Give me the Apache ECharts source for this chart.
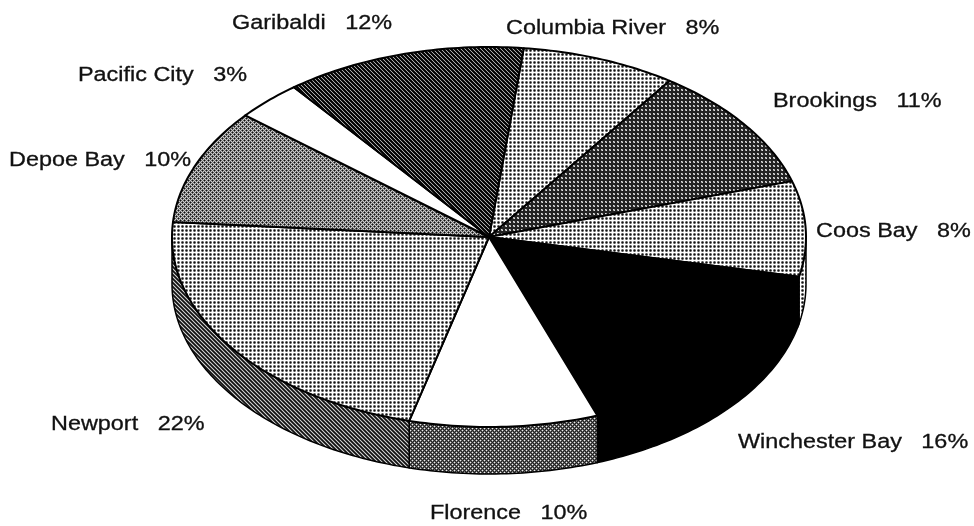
<!DOCTYPE html>
<html>
<head>
<meta charset="utf-8">
<style>
  html, body { margin: 0; padding: 0; background: #fff; }
  #main { width: 974px; height: 526px; }
</style>
<script src="https://cdn.jsdelivr.net/npm/echarts@6/dist/echarts.min.js"></script>
</head>
<body>
<div id="main"></div>
<script>
// slices clockwise, starting at the Garibaldi / Columbia River edge
const names = ["Columbia River", "Brookings", "Coos Bay", "Winchester Bay", "Florence", "Newport", "Depoe Bay", "Pacific City", "Garibaldi"];
const shares = [7.9, 10.6, 8.1, 16.1, 9.6, 22.2, 9.8, 3.4, 12.3];

// ellipse of the top face
const cx = 489, cy = 237, rx = 317, ry = 190, depth = 47;
const startAngle = 6.3;

// left edge / middle of each label, and horizontal stretch of the text
const labelPos = [[506, 28], [773, 101], [816, 231], [738, 442], [430, 513], [51, 424], [9, 160], [78, 75], [232, 23]];
const textStretch = 1.17;

// halftone screens, one hex digit of gray per pixel
const screens = {
  light: ["ffff", "fa5a", "f515", "fa5a"],
  medium: ["16c6", "6c6c", "c616", "6c6c"],
  dark: ["2222", "2d92", "29d2", "2222"],
  darkest: ["a101", "1a10", "01a1", "101a"],
  wallLeft: ["c414", "4c41", "14c4", "414c"],
  wallMid: ["e626", "6262", "26e6", "6262"]
};

function makeScreen(rows) {
  const c = document.createElement("canvas");
  c.width = rows[0].length;
  c.height = rows.length;
  const ctx = c.getContext("2d");
  rows.forEach((row, y) => {
    row.split("").forEach((d, x) => {
      const g = parseInt(d, 16) * 17;
      ctx.fillStyle = "rgb(" + g + "," + g + "," + g + ")";
      ctx.fillRect(x, y, 1, 1);
    });
  });
  return { image: c, repeat: "repeat" };
}

const light = makeScreen(screens.light);
const medium = makeScreen(screens.medium);
const dark = makeScreen(screens.dark);
const darkest = makeScreen(screens.darkest);
const wallLeft = makeScreen(screens.wallLeft);
const wallMid = makeScreen(screens.wallMid);

const topFills = [light, dark, light, "#000", "#fff", light, medium, "#fff", darkest];
const wallFills = [light, light, light, "#000", wallMid, wallLeft, wallLeft, wallLeft, wallLeft];

const total = shares.reduce((a, b) => a + b, 0);
let running = 0;
const edges = shares.map(v => {
  const from = running;
  running += v;
  return [from, running].map(s => echarts.number.linearMap(s, [0, total], [startAngle, startAngle + 360]));
});

function onEllipse(deg, drop) {
  const r = deg * Math.PI / 180;
  return [cx + rx * Math.sin(r), cy - ry * Math.cos(r) + drop];
}

function arc(a0, a1, drop) {
  const pts = [];
  const steps = Math.max(2, Math.ceil(Math.abs(a1 - a0)));
  for (let i = 0; i <= steps; i++) {
    pts.push(onEllipse(a0 + (a1 - a0) * i / steps, drop));
  }
  return pts;
}

function renderWall(params) {
  const i = params.dataIndex;
  const a0 = Math.max(edges[i][0], 90);
  const a1 = Math.min(edges[i][1], 270);
  if (a1 <= a0) return null;
  return {
    type: "polygon",
    shape: { points: arc(a0, a1, 0).concat(arc(a1, a0, depth)) },
    style: { fill: wallFills[i], stroke: "#000", lineWidth: 1.5 }
  };
}

function renderTop(params) {
  const i = params.dataIndex;
  return {
    type: "polygon",
    shape: { points: [[cx, cy]].concat(arc(edges[i][0], edges[i][1], 0)) },
    style: { fill: topFills[i], stroke: "#000", lineWidth: 2, lineJoin: "round" }
  };
}

function renderLabel(params, api) {
  const i = params.dataIndex;
  return {
    type: "text",
    x: labelPos[i][0],
    y: labelPos[i][1],
    scaleX: textStretch,
    style: {
      text: names[i] + "   " + Math.round(api.value(0)) + "%",
      font: "20px 'Liberation Sans', Arial, sans-serif",
      fill: "#111",
      stroke: "#111",
      lineWidth: 0.3,
      align: "left",
      verticalAlign: "middle"
    }
  };
}

const chart = echarts.init(document.getElementById("main"), null, { renderer: "canvas" });

chart.setOption({
  animation: false,
  backgroundColor: "#fff",
  series: [
    { type: "custom", coordinateSystem: "none", silent: true, z: 1, data: shares, renderItem: renderWall },
    { type: "custom", coordinateSystem: "none", silent: true, z: 2, data: shares, renderItem: renderTop },
    { type: "custom", coordinateSystem: "none", silent: true, z: 3, data: shares, renderItem: renderLabel }
  ]
});
</script>
</body>
</html>
